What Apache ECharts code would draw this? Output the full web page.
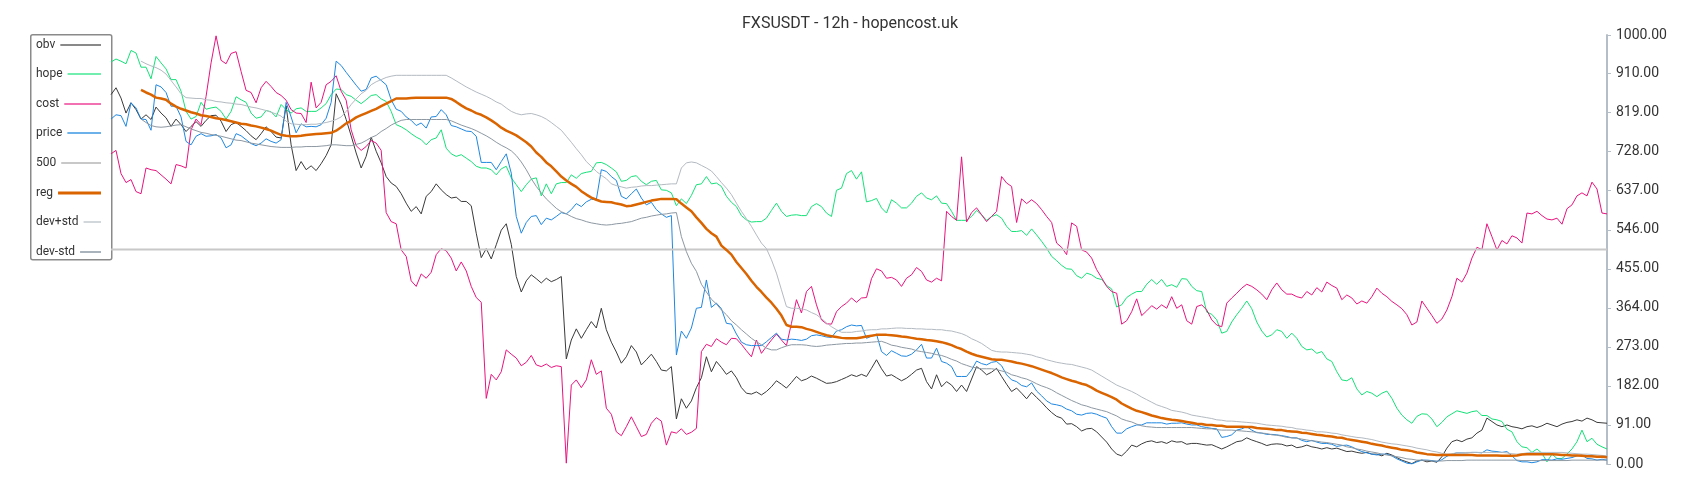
<!DOCTYPE html>
<html><head><meta charset="utf-8">
<script src="https://cdn.jsdelivr.net/npm/echarts@6/dist/echarts.min.js"></script>
<style>html,body{margin:0;padding:0;background:#fff}#c{width:1700px;height:500px}</style>
</head><body><div id="c"></div>
<script>
const TITLE = 'FXSUSDT - 12h - hopencost.uk';
const SERIES_NAMES = ['obv','hope','cost','price','500','reg','dev+std','dev-std'];
const Y_MIN = 0, Y_MAX = 1000, Y_STEP = 91;

const obv = [
861,877,853,818,842,826,804,814,803,832,
818,807,787,804,791,775,787,798,787,801,
812,813,799,775,791,796,787,777,765,756,
770,786,775,762,760,835,744,684,705,686,
695,684,700,719,744,863,838,803,765,725,
690,717,762,729,702,670,655,647,630,608,
589,600,583,624,635,653,639,628,620,622,
612,612,602,538,481,502,478,511,545,560,
512,437,401,427,441,432,422,433,425,430,
437,245,289,315,293,313,332,317,363,313,
284,261,235,250,276,261,231,243,256,239,
219,217,227,105,152,130,147,178,201,250,
215,239,225,209,217,201,178,165,163,168,
161,169,180,194,186,177,190,204,194,198,
205,200,194,188,189,192,197,202,208,204,
209,204,223,243,222,205,208,201,194,200,
209,219,223,192,175,208,180,192,184,169,
184,169,198,227,219,208,214,223,204,186,
169,177,165,152,167,155,144,131,120,111,
107,93,94,87,77,82,83,75,63,51,
35,23,19,30,44,40,47,52,54,50,
52,48,54,51,52,46,48,48,46,44,
45,40,35,40,46,52,54,61,56,52,
48,43,46,47,46,42,44,38,40,44,
40,38,35,38,35,37,33,29,30,27,
25,27,23,23,19,25,21,15,9,5,
1,7,9,5,7,4,17,37,52,56,
52,58,61,72,79,107,99,91,87,91,
87,85,82,87,89,85,89,95,91,87,
93,97,99,103,100,107,103,97,96,95];

const hope = [
937,944,939,933,964,958,925,925,898,950,
935,921,896,896,869,822,804,810,843,827,
830,832,822,804,822,856,849,843,818,806,
809,824,821,809,838,826,818,828,830,822,
822,822,830,840,861,874,873,861,857,848,
840,849,859,861,851,845,822,791,786,779,
770,762,756,744,756,760,779,736,723,717,
721,713,705,694,690,690,686,674,688,694,
667,651,635,651,664,667,625,653,630,653,
656,656,674,666,677,680,682,702,703,698,
690,681,659,661,670,672,659,651,659,661,
639,638,632,602,618,607,626,651,653,670,
653,655,647,624,610,600,579,569,564,565,
565,573,591,608,589,577,580,581,579,579,
600,607,600,585,577,638,643,677,684,664,
681,611,614,619,597,585,616,608,597,597,
608,624,632,620,616,625,608,607,589,568,
568,568,577,591,581,568,577,581,573,554,
542,542,544,533,548,534,519,503,484,474,
463,455,454,439,433,445,441,433,430,416,
408,366,371,388,396,402,402,419,430,419,
430,414,418,412,432,431,414,404,402,354,
349,336,305,309,331,348,363,380,362,331,
310,296,301,313,309,293,305,293,274,266,
268,258,262,245,239,215,196,194,201,175,
161,169,165,157,165,170,153,130,114,103,
95,111,117,116,105,87,97,110,117,124,
121,118,122,124,113,113,105,103,99,81,
75,52,40,38,27,35,25,5,23,13,
13,23,35,52,79,52,60,46,40,35];

const cost = [
723,731,677,656,663,635,630,690,686,684,
674,664,653,698,695,690,779,804,791,857,
935,998,941,933,957,961,915,871,866,842,
877,892,880,866,859,848,826,818,817,796,
890,830,843,884,892,905,869,848,779,742,
731,740,754,748,731,586,565,560,499,484,
427,414,443,433,447,488,502,497,480,450,
471,450,414,388,377,153,209,196,215,266,
256,247,229,237,253,231,227,233,225,229,
227,2,184,196,178,196,243,209,217,130,
116,75,66,87,110,87,64,69,95,108,
100,44,75,72,82,69,74,83,262,279,
274,292,284,278,293,292,279,264,250,289,
258,274,289,303,289,276,328,383,352,402,
414,371,336,327,326,355,367,375,387,377,
387,388,432,455,450,433,435,429,414,433,
441,458,449,429,424,433,427,589,577,568,
716,564,586,597,581,565,577,589,670,655,
647,563,618,607,616,607,593,577,563,515,
505,488,562,554,499,494,480,453,434,414,
402,398,326,334,355,385,346,357,369,361,
371,363,390,363,371,334,326,367,371,359,
336,324,320,375,387,398,410,419,414,406,
396,383,406,422,406,396,396,390,387,402,
394,411,401,424,416,410,383,394,387,373,
380,375,390,410,398,390,379,371,362,348,
324,331,380,363,346,328,338,359,390,433,
424,445,480,505,500,560,530,499,521,513,
532,527,515,585,583,589,579,571,569,573,
559,595,604,625,632,625,657,641,585,583];

const price = [
804,814,812,787,842,830,804,803,778,884,
879,866,834,834,809,752,744,764,770,764,
765,768,760,737,744,770,765,756,747,742,
748,758,752,748,756,843,809,772,793,786,
787,786,791,806,843,939,929,913,898,883,
869,873,900,904,894,884,849,827,822,809,
801,789,795,783,809,810,826,814,789,786,
781,776,775,764,703,703,703,686,705,723,
678,577,538,563,577,579,558,573,569,577,
586,583,593,607,600,611,617,616,686,682,
670,661,624,618,630,641,620,604,610,593,
583,575,579,254,310,293,317,363,365,429,
365,375,362,328,326,303,284,278,276,276,
276,285,295,305,291,289,291,290,288,291,
299,301,299,296,295,310,313,320,324,322,
323,293,298,303,262,253,264,258,252,251,
256,266,279,247,247,270,239,235,227,204,
204,204,219,240,234,231,237,239,229,208,
196,192,183,180,189,170,159,147,140,138,
135,128,124,116,114,118,119,116,111,107,
87,72,72,82,87,91,91,96,96,96,
96,93,95,95,96,93,91,91,87,85,
83,82,62,64,68,79,82,87,79,73,
72,69,69,68,66,64,61,61,55,52,
55,51,48,48,46,41,43,44,40,34,
29,26,23,21,23,23,19,12,7,2,
0,5,9,9,8,6,10,18,23,26,
26,26,27,27,26,33,30,29,27,29,
19,8,5,5,3,5,10,10,9,12,
11,13,15,19,21,13,12,9,11,9];

const level500 = [500, 500];

const reg = [
null,null,null,null,null,null,872,866,861,854,
852,849,840,833,828,824,820,817,813,811,
809,806,804,802,799,796,793,792,789,787,
784,781,777,772,767,765,764,764,765,767,
768,769,770,771,772,777,785,794,800,808,
813,818,823,828,834,840,846,852,852,852,
853,854,854,854,854,854,854,854,851,844,
836,829,824,818,814,808,801,793,784,777,
772,766,758,750,740,726,716,703,694,682,
670,661,653,646,636,628,621,616,612,611,
610,607,605,601,602,605,608,611,614,616,
618,618,618,617,607,598,589,575,562,548,
538,530,509,499,488,471,457,443,427,413,
401,388,376,362,346,324,320,320,319,315,
312,308,304,300,298,296,294,293,293,293,
295,297,299,301,301,301,300,299,297,296,
294,292,291,289,288,286,284,281,277,272,
268,262,257,253,250,247,244,243,243,241,
239,236,234,231,228,224,220,216,212,207,
202,198,194,191,187,184,178,171,166,161,
156,150,141,135,129,124,121,117,113,110,
107,105,103,102,100,98,96,94,93,91,
91,89,89,87,87,87,87,86,86,84,
83,82,81,79,79,77,76,75,73,72,
70,68,67,65,64,62,61,58,56,54,
52,50,47,45,43,40,38,36,33,32,
30,27,25,23,22,21,21,21,21,21,
21,21,21,20,20,20,20,20,19,19,
19,20,22,23,23,23,23,23,23,22,
21,21,20,20,19,18,18,17,17,16];

const devPlus = [
null,null,null,null,null,null,939,933,928,924,
918,909,894,879,863,854,853,852,852,849,
848,845,844,842,841,839,838,835,832,830,
827,824,820,816,811,799,793,792,791,791,
792,792,794,796,799,803,809,822,838,851,
863,871,884,891,896,901,904,906,906,906,
906,906,906,906,906,906,906,906,900,893,
886,879,873,867,862,857,851,844,839,830,
822,817,814,816,817,814,810,804,796,787,
778,764,750,735,721,705,694,682,673,665,
653,649,646,643,645,646,648,649,649,650,
651,652,653,653,690,702,704,702,696,690,
683,670,656,643,628,608,589,572,554,534,
515,502,476,445,406,367,363,363,362,359,
353,348,339,329,320,313,307,307,307,309,
310,312,313,313,315,315,316,317,317,316,
316,315,315,314,314,313,313,311,310,307,
304,299,292,287,281,273,265,262,261,261,
260,259,258,256,254,250,247,243,240,237,
235,233,232,229,226,223,219,212,205,198,
191,184,179,174,169,163,156,150,144,138,
134,130,125,123,121,118,114,112,110,108,
106,103,102,100,100,99,98,97,96,95,
93,91,90,89,88,86,85,82,81,79,
78,75,75,74,72,71,68,66,64,62,
61,59,57,54,51,49,47,46,44,42,
40,37,35,33,30,28,25,23,24,26,
26,27,27,27,27,27,27,27,27,26,
24,23,24,26,27,27,27,27,27,27,
27,26,25,24,23,23,22,21,20,19];

const devMinus = [
null,null,null,null,null,null,804,796,789,786,
785,786,788,790,791,786,781,777,773,771,
768,766,764,761,758,755,754,751,748,746,
744,742,740,739,738,738,738,739,739,740,
740,740,741,742,744,744,743,742,742,745,
748,754,761,766,775,782,790,796,801,803,
803,803,803,803,803,803,803,803,800,795,
790,786,782,777,771,765,758,750,743,737,
730,719,704,686,665,647,632,618,607,596,
588,583,577,572,569,565,562,560,558,557,
558,560,561,563,565,569,573,575,578,580,
582,583,585,586,530,495,468,449,419,401,
384,373,359,348,334,324,313,303,293,285,
278,270,266,266,271,275,278,278,278,277,
275,274,275,277,278,279,280,281,281,282,
282,283,284,285,286,282,277,275,272,270,
268,264,262,260,258,255,253,249,244,240,
234,230,226,224,222,222,222,220,217,214,
208,205,201,198,193,187,182,178,173,166,
160,154,148,143,138,135,131,128,125,122,
117,112,105,101,98,93,89,87,86,85,
85,85,85,85,85,85,85,84,83,82,
82,80,79,79,79,78,77,76,75,74,
72,71,68,67,65,62,61,60,58,56,
54,53,51,50,48,46,44,40,38,35,
33,30,28,26,23,21,19,17,15,12,
11,9,9,8,7,7,7,8,8,8,
8,9,9,9,9,9,9,9,9,9,
9,9,8,8,8,8,8,8,8,8,
8,8,9,9,9,9,9,9,9,9];

const N = obv.length;
const categories = obv.map((_, i) => i);

const STYLE = {
  'obv':     {color: '#3a3a3a', width: 1,   icon: 'rgba(58,58,58,0.6)'},
  'hope':    {color: '#14e278', width: 1,   icon: 'rgba(20,226,120,0.6)'},
  'cost':    {color: '#e8137e', width: 1,   icon: 'rgba(232,19,126,0.6)'},
  'price':   {color: '#1f87e0', width: 1,   icon: 'rgba(31,135,224,0.65)'},
  '500':     {color: '#c8c8c8', width: 2,   icon: '#c8c8c8'},
  'reg':     {color: '#d96400', width: 2.5, icon: '#d96400'},
  'dev+std': {color: '#b3bac1', width: 1,   icon: '#d2d7dc'},
  'dev-std': {color: '#8d98a2', width: 1,   icon: '#a9b3bc'}
};
const DATA = {
  'obv': obv, 'hope': hope, 'cost': cost, 'price': price,
  '500': [[0, level500[0]], [N - 1, level500[1]]],
  'reg': reg, 'dev+std': devPlus, 'dev-std': devMinus
};

const chart = echarts.init(document.getElementById('c'), null, {renderer: 'canvas'});

// legend layout: text starts at a fixed x, icons end at a fixed x
const ctx = document.createElement('canvas').getContext('2d');
ctx.font = '12px Roboto';
const LEG_TEXT_X = 36, LEG_ICON_END = 101, LEG_Y0 = 44.5, LEG_DY = 29.6;
const legends = SERIES_NAMES.map((name, k) => {
  const tw = ctx.measureText(name).width;
  const iw = Math.max(8, LEG_ICON_END - LEG_TEXT_X - tw - 5);
  return {
    show: true, orient: 'vertical', align: 'right',
    left: LEG_TEXT_X, top: Math.round(LEG_Y0 + LEG_DY * k - 7),
    padding: 0, itemGap: 0, itemWidth: iw, itemHeight: name === 'reg' ? 3 : 2,
    icon: 'rect', selectedMode: false, z: 5,
    textStyle: {fontFamily: 'Roboto', fontSize: 12, color: '#333', lineHeight: 14},
    data: [{name: name, itemStyle: {color: STYLE[name].icon, borderWidth: 0}}]
  };
});

const option = {
  animation: false,
  backgroundColor: '#fff',
  textStyle: {fontFamily: 'Roboto'},
  title: {
    text: TITLE, left: 'center', top: 11,
    textStyle: {fontFamily: 'Roboto', fontSize: 16, fontWeight: 'normal', color: '#333'}
  },
  legend: legends,
  graphic: [{
    type: 'rect', z: 1, left: 30, top: 34,
    shape: {width: 81, height: 225, r: 2},
    style: {fill: '#fff', stroke: '#8a8a8a', lineWidth: 1.5}
  }],
  grid: {left: 111, right: 93, top: 35, bottom: 36, containLabel: false},
  xAxis: {
    type: 'category', data: categories, boundaryGap: false, show: false
  },
  yAxis: {
    type: 'value', position: 'right', min: Y_MIN, max: Y_MAX, interval: Y_STEP,
    axisLine: {show: true, lineStyle: {color: '#b5bec6', width: 2}},
    axisTick: {show: true, length: 4, lineStyle: {color: '#b5bec6', width: 1}},
    splitLine: {show: false},
    axisLabel: {
      margin: 9, fontFamily: 'Roboto', fontSize: 14, color: '#333',
      formatter: v => v.toFixed(2)
    }
  },
  series: SERIES_NAMES.map(name => ({
    name: name, type: 'line', data: DATA[name], symbol: 'none', showSymbol: false,
    connectNulls: false, silent: true,
    lineStyle: {color: STYLE[name].color, width: STYLE[name].width},
    itemStyle: {color: STYLE[name].color},
    z: name === 'reg' ? 4 : 2
  }))
};
chart.setOption(option);
</script>
</body></html>
